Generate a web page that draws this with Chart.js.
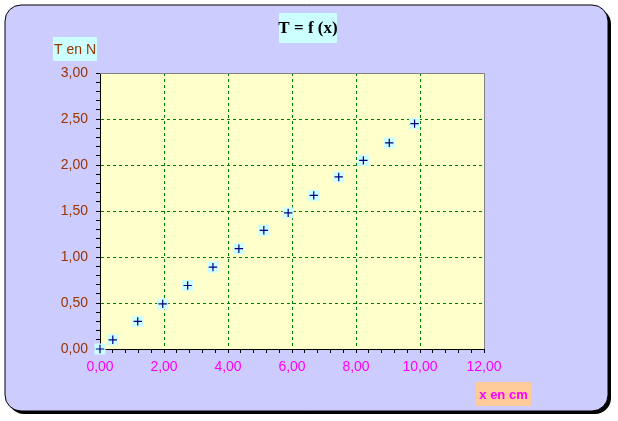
<!DOCTYPE html>
<html>
<head>
<meta charset="utf-8">
<script src="https://cdn.jsdelivr.net/npm/chart.js@4/dist/chart.umd.min.js"></script>
<style>
  html, body { margin: 0; padding: 0; background: #ffffff; }
  canvas { display: block; }
</style>
</head>
<body>
<canvas id="c" width="618" height="421"></canvas>
<script>
// ---- data ----
const xValues = [0, 0.40, 1.18, 1.96, 2.74, 3.53, 4.34, 5.12, 5.88, 6.68, 7.46, 8.23, 9.04, 9.83];
const tValues = [0, 0.10, 0.30, 0.49, 0.69, 0.89, 1.09, 1.29, 1.48, 1.67, 1.87, 2.05, 2.24, 2.45];
const titleText = 'T = f (x)';
const yAxisTitle = 'T en N';
const xAxisTitle = 'x en cm';
const xMin = 0, xMax = 12, xMajor = 2, xMinor = 0.4;
const yMin = 0, yMax = 3, yMajor = 0.5, yMinor = 0.1;

const points = xValues.map((x, i) => ({ x: x, y: tValues[i] }));

function isMultiple(v, step) {
  const r = v / step;
  return Math.abs(r - Math.round(r)) < 1e-6;
}
function fmt(v) { return v.toFixed(2).replace('.', ','); }

function roundRect(ctx, x, y, w, h, r) {
  ctx.beginPath();
  ctx.moveTo(x + r, y);
  ctx.lineTo(x + w - r, y);
  ctx.arcTo(x + w, y, x + w, y + r, r);
  ctx.lineTo(x + w, y + h - r);
  ctx.arcTo(x + w, y + h, x + w - r, y + h, r);
  ctx.lineTo(x + r, y + h);
  ctx.arcTo(x, y + h, x, y + h - r, r);
  ctx.lineTo(x, y + r);
  ctx.arcTo(x, y, x + r, y, r);
  ctx.closePath();
}

function labelBox(ctx, text, font, color, bg, x0, y0, x1, y1) {
  ctx.fillStyle = bg;
  ctx.fillRect(x0, y0, x1 - x0, y1 - y0);
  ctx.font = font;
  ctx.fillStyle = color;
  ctx.textAlign = 'center';
  ctx.textBaseline = 'middle';
  ctx.fillText(text, (x0 + x1) / 2, (y0 + y1) / 2 + 1);
}

const decor = {
  id: 'decor',
  beforeDraw(chart) {
    const ctx = chart.ctx;
    const ca = chart.chartArea;
    ctx.save();
    ctx.fillStyle = '#ffffff';
    ctx.fillRect(0, 0, chart.width, chart.height);
    // shadow
    ctx.fillStyle = '#000000';
    roundRect(ctx, 8, 8, 603, 406, 16);
    ctx.fill();
    // panel
    roundRect(ctx, 5, 5, 603, 406, 16);
    ctx.fillStyle = '#ccccff';
    ctx.fill();
    ctx.lineWidth = 1;
    ctx.strokeStyle = '#000000';
    ctx.stroke();
    // plot area
    ctx.fillStyle = '#ffffcc';
    ctx.fillRect(ca.left, ca.top, ca.right - ca.left, ca.bottom - ca.top);
    // text boxes
    labelBox(ctx, titleText, 'bold 17px "Liberation Serif"', '#000000', '#ccffff', 279, 13, 337, 43);
    labelBox(ctx, yAxisTitle, '14px "Liberation Sans"', '#993300', '#ccffff', 53, 37, 97, 61);
    labelBox(ctx, xAxisTitle, 'bold 13px "Liberation Sans"', '#ff00ff', '#ffcc99', 476, 382, 531, 406);
    ctx.restore();
  },
  beforeDatasetsDraw(chart) {
    const ctx = chart.ctx;
    const ca = chart.chartArea;
    ctx.save();
    ctx.strokeStyle = '#808080';
    ctx.lineWidth = 1;
    ctx.beginPath();
    ctx.moveTo(ca.left, ca.top + 0.5);
    ctx.lineTo(ca.right + 0.5, ca.top + 0.5);
    ctx.lineTo(ca.right + 0.5, ca.bottom);
    ctx.stroke();
    ctx.restore();
  }
};

new Chart(document.getElementById('c'), {
  type: 'scatter',
  data: {
    datasets: [
      {
        data: points,
        order: 1,
        pointStyle: 'cross',
        pointRadius: 4.2,
        pointBorderColor: '#000080',
        pointBackgroundColor: '#000080',
        pointBorderWidth: 1.2,
        clip: false
      },
      {
        data: points,
        order: 2,
        pointStyle: 'rect',
        pointRadius: 7.8,
        pointBackgroundColor: '#ccffff',
        pointBorderWidth: 0,
        pointBorderColor: 'rgba(0,0,0,0)',
        clip: false
      }
    ]
  },
  options: {
    responsive: false,
    devicePixelRatio: 1,
    animation: false,
    events: [],
    layout: { padding: { left: 0, top: 73, right: 134, bottom: 0 } },
    plugins: { legend: { display: false }, tooltip: { enabled: false }, title: { display: false } },
    scales: {
      x: {
        type: 'linear',
        min: xMin, max: xMax,
        afterFit(s) { s.height = 72; },
        ticks: {
          stepSize: xMinor,
          autoSkip: false,
          maxRotation: 0,
          padding: 6,
          color: '#ff00ff',
          font: { family: '"Liberation Sans"', size: 14 },
          callback: (v) => isMultiple(v, xMajor) ? fmt(v) : ''
        },
        grid: {
          drawOnChartArea: true,
          tickLength: 4,
          tickColor: '#000000',
          lineWidth: 1,
          color: (c) => {
            const v = c.tick ? c.tick.value : null;
            if (v === null || !isMultiple(v, xMajor)) return 'rgba(0,0,0,0)';
            if (Math.abs(v - xMin) < 1e-6 || Math.abs(v - xMax) < 1e-6) return 'rgba(0,0,0,0)';
            return '#008000';
          }
        },
        border: { display: true, color: '#000000', width: 1, dash: [3, 3] }
      },
      y: {
        type: 'linear',
        min: yMin, max: yMax,
        afterFit(s) { s.width = 100; },
        ticks: {
          stepSize: yMinor,
          autoSkip: false,
          padding: 8,
          color: '#993300',
          font: { family: '"Liberation Sans"', size: 14 },
          callback: (v) => isMultiple(v, yMajor) ? fmt(v) : ''
        },
        grid: {
          drawOnChartArea: true,
          tickLength: 4,
          tickColor: '#000000',
          lineWidth: 1,
          color: (c) => {
            const v = c.tick ? c.tick.value : null;
            if (v === null || !isMultiple(v, yMajor)) return 'rgba(0,0,0,0)';
            if (Math.abs(v - yMin) < 1e-6 || Math.abs(v - yMax) < 1e-6) return 'rgba(0,0,0,0)';
            return '#008000';
          }
        },
        border: { display: true, color: '#000000', width: 1, dash: [3, 3] }
      }
    }
  },
  plugins: [decor]
});
</script>
</body>
</html>
